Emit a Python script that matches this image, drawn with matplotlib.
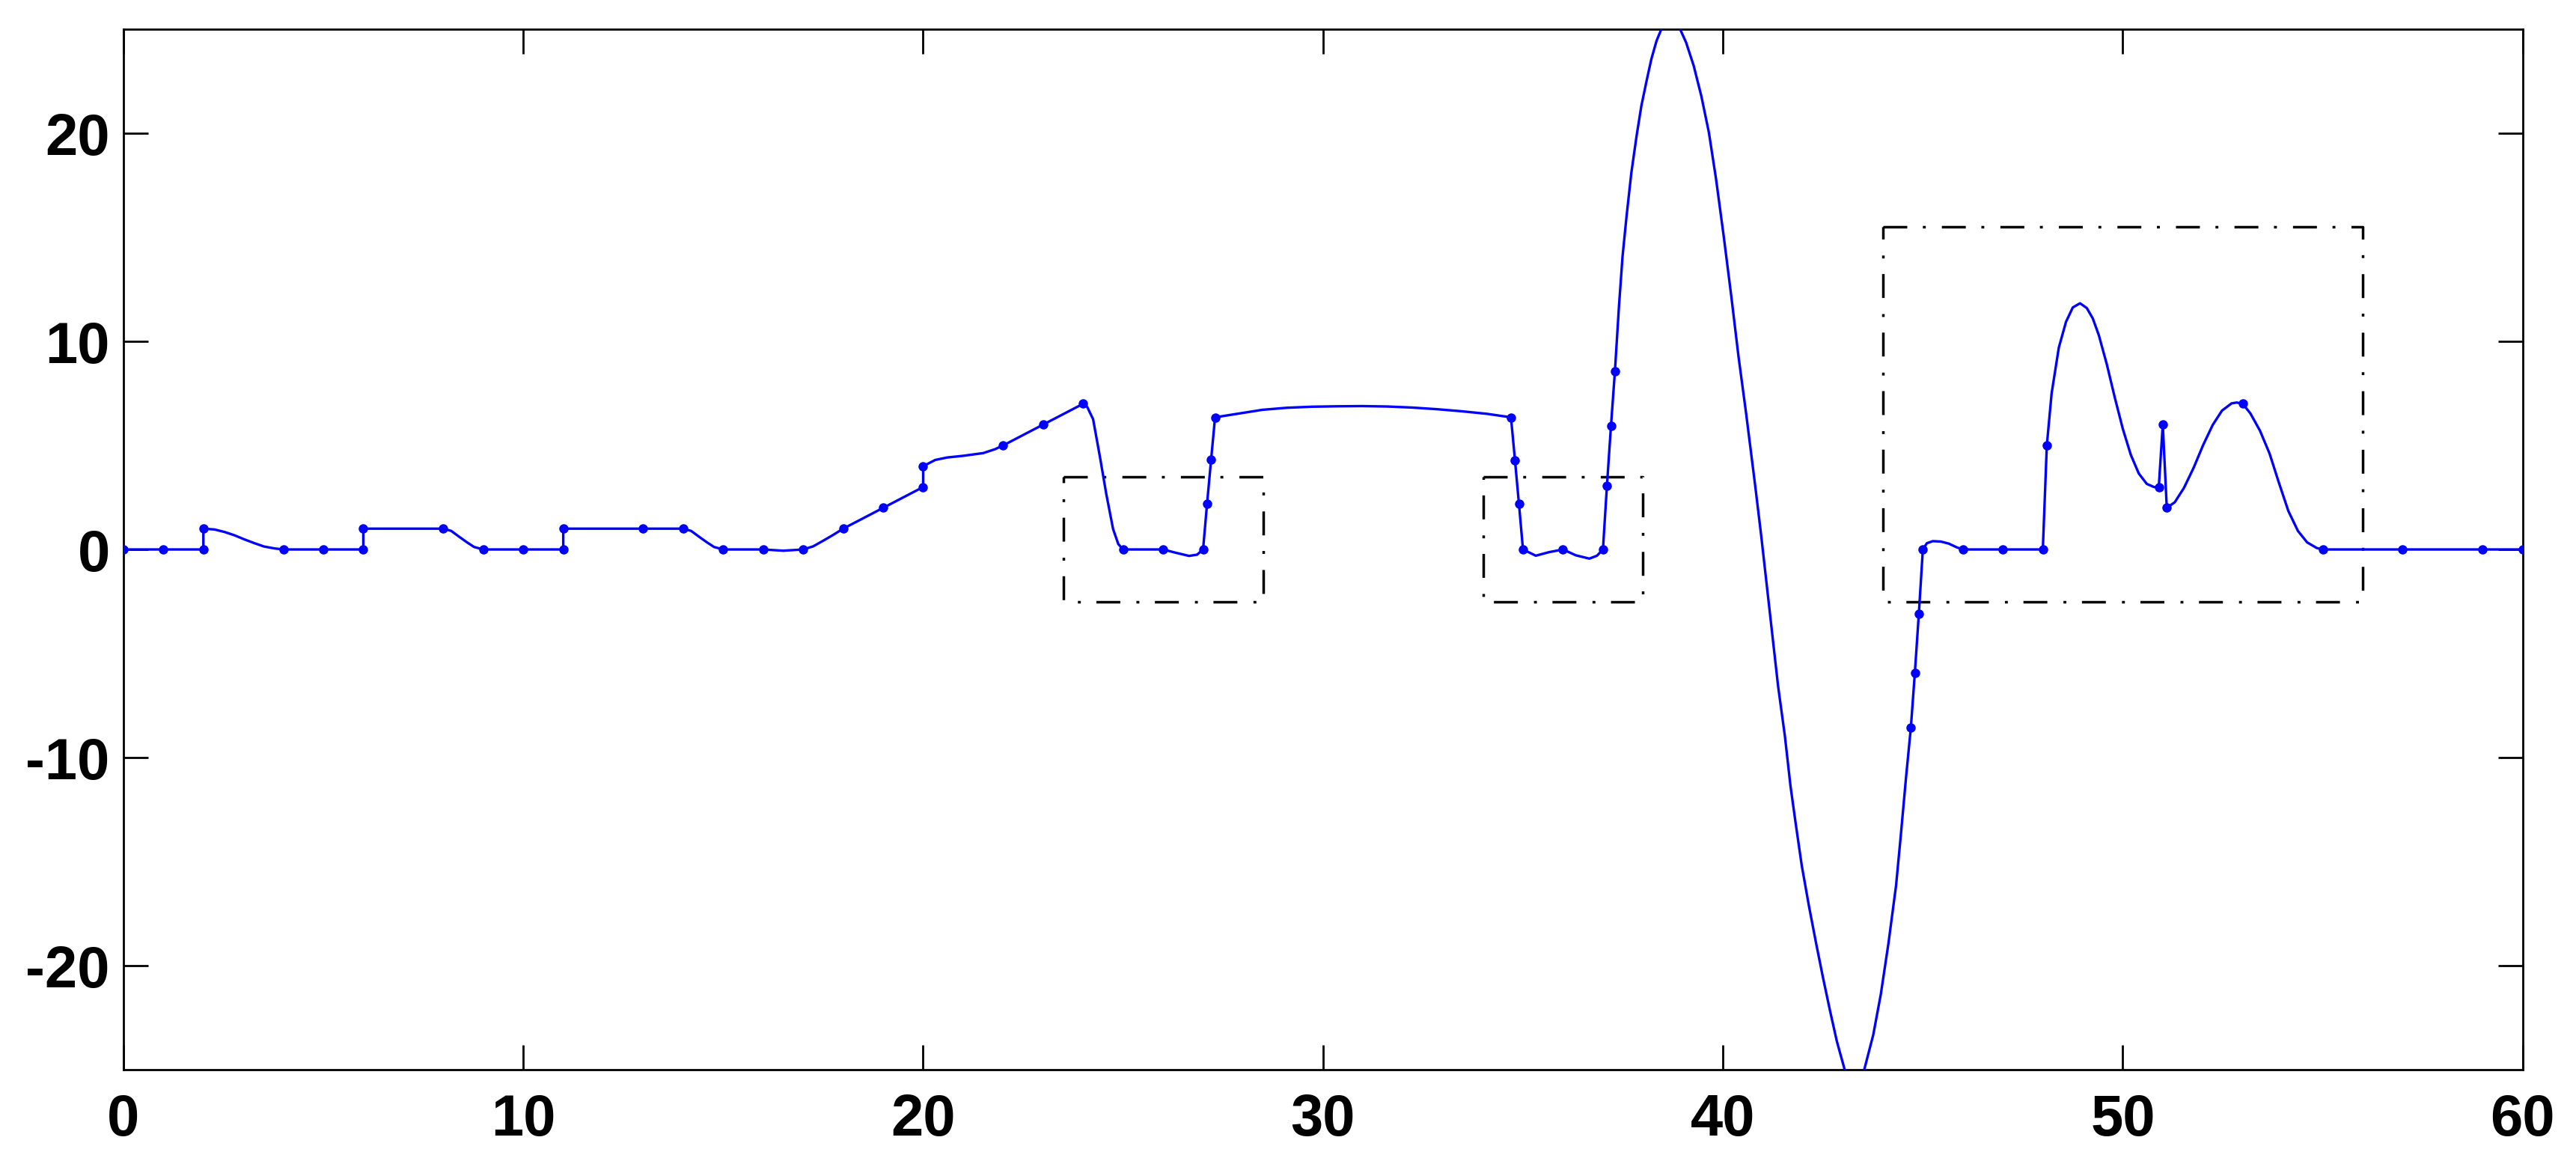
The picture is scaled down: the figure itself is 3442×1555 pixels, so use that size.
import numpy as np
import matplotlib
matplotlib.use("Agg")
import matplotlib.pyplot as plt

# curva (x, y), los saltos verticales repiten x
curva_x = [0, 1, 2, 2, 2.28, 2.53, 2.78, 3.03, 3.28, 3.52, 3.78, 4, 5, 6, 6, 8,
           8.2, 8.39, 8.58, 8.77, 9, 10, 11, 11, 13, 14, 14.2, 14.39, 14.58, 14.77,
           15, 16, 16.5, 17, 17.25, 17.5, 17.75, 18, 19, 20, 20, 20.3, 20.6, 21,
           21.5, 21.8, 22, 23, 24, 24.1, 24.25, 24.42, 24.58, 24.75, 24.88, 25, 26,
           26.3, 26.65, 26.85, 27, 27.1, 27.2, 27.3, 27.86, 28.48, 29.1, 29.73,
           30.35, 30.97, 31.6, 32.22, 32.85, 33.47, 34.09, 34.7, 34.8, 34.9, 35,
           35.32, 35.65, 36, 36.32, 36.66, 36.85, 37, 37.1, 37.2, 37.3, 37.4, 37.49,
           37.59, 37.71, 37.84, 37.96, 38.09, 38.21, 38.34, 38.46, 38.58, 38.7, 38.82,
           38.93, 39.08, 39.27, 39.46, 39.65, 39.83, 40.02, 40.21, 40.39, 40.58, 40.81,
           40.96, 41.1, 41.24, 41.38, 41.55, 41.69, 41.82, 41.97, 42.15, 42.33, 42.5,
           42.68, 42.85, 43.05, 43.17, 43.29, 43.41, 43.53, 43.76, 43.95, 44.14, 44.33,
           44.45, 44.58, 44.7, 44.8, 44.9, 45, 45.1, 45.25, 45.45, 45.65, 45.85, 46,
           47, 48, 48.1, 48.22, 48.4, 48.58, 48.75, 48.93, 49.1, 49.25, 49.4, 49.6,
           49.8, 50.0, 50.2, 50.4, 50.6, 50.78, 50.9, 51, 51.1, 51.3, 51.53, 51.77,
           52.01, 52.25, 52.48, 52.72, 52.85, 53, 53.19, 53.43, 53.67, 53.9, 54.14,
           54.38, 54.61, 54.85, 55, 57, 59, 60]
curva_y = [0, 0, 0, 1, 0.96, 0.84, 0.68, 0.48, 0.30, 0.14, 0.05, 0, 0, 0, 1, 1,
           0.89, 0.62, 0.36, 0.12, 0, 0, 0, 1, 1, 1, 0.89, 0.62, 0.36, 0.12,
           0, 0, -0.06, 0, 0.15, 0.42, 0.7, 1, 2, 3, 4, 4.3, 4.42, 4.5,
           4.63, 4.82, 5, 6, 7, 6.86, 6.26, 4.46, 2.66, 0.98, 0.26, 0, 0,
           -0.15, -0.31, -0.25, 0, 2.2, 4.3, 6.35, 6.52, 6.71, 6.81, 6.86,
           6.88, 6.89, 6.87, 6.82, 6.74, 6.64, 6.52, 6.35, 4.29, 2.18, 0,
           -0.3, -0.13, 0, -0.28, -0.44, -0.3, 0, 3.07, 5.92, 8.58, 11.67, 14.08,
           16.01, 18.1, 19.86, 21.31, 22.51, 23.56, 24.44, 25.0, 25.34, 25.45, 25.34,
           25.0, 24.36, 23.24, 21.79, 20.03, 17.78, 15.05, 12.16, 9.27, 6.54, 3.02,
           0.62, -1.77, -4.17, -6.57, -8.97, -11.37, -13.17, -15.17, -17.12, -18.92, -20.55,
           -22.18, -23.64, -25.03, -25.34, -25.45, -25.34, -25.03, -23.32, -21.36, -18.92, -16.15,
           -13.71, -10.94, -8.56, -5.93, -3.08, 0, 0.3, 0.4, 0.38, 0.28, 0.1, 0,
           0, 0, 5.0, 7.5, 9.7, 10.94, 11.63, 11.83, 11.6, 11.1, 10.3, 8.9,
           7.3, 5.8, 4.55, 3.65, 3.15, 3.0, 3.0, 6.0, 2.0, 2.27, 2.96, 3.92,
           5.02, 5.99, 6.67, 7.02, 7.06, 7.0, 6.54, 5.71, 4.61, 3.23, 1.85,
           0.89, 0.34, 0.07, 0, 0, 0, 0]

# puntos marcados
puntos_x = [0, 1, 2, 2, 4, 5, 6, 6, 8, 9, 10, 11, 11, 13, 14, 15, 16, 17, 18, 19,
            20, 20, 22, 23, 24, 25, 26, 27, 27.1, 27.2, 27.3, 34.7, 34.8, 34.9, 35,
            36, 37, 37.1, 37.2, 37.3, 44.7, 44.8, 44.9, 45, 46, 47, 48, 48.1, 50.9,
            51, 51.1, 53, 55, 57, 59, 60]
puntos_y = [0, 0, 0, 1, 0, 0, 0, 1, 1, 0, 0, 0, 1, 1, 1, 0, 0, 0, 1, 2,
            3, 4, 5, 6, 7, 0, 0, 0, 2.2, 4.3, 6.35, 6.35, 4.29, 2.18, 0,
            0, 0, 3.07, 5.92, 8.58, -8.56, -5.93, -3.08, 0, 0, 0, 0, 5.0, 3.0,
            6.0, 2.0, 7.0, 0, 0, 0, 0]

# cajas punteadas
caja_x0 = [23.5, 34, 44]
caja_x1 = [28.5, 38, 56]
caja_y0 = [-2.5, -2.5, -2.5]
caja_y1 = [3.5, 3.5, 15.5]

xticks = [0, 10, 20, 30, 40, 50, 60]
yticks = [-20, -10, 0, 10, 20]

plt.rcParams['axes.unicode_minus'] = False
plt.rcParams['lines.scale_dashes'] = False

fig = plt.figure(figsize=(34.42, 15.55), dpi=100)
ax = fig.add_axes([0.0479, 0.0810, 0.9314, 0.8939])

ax.plot(curva_x, curva_y, color='#0000ff', linewidth=2.4, zorder=3)
ax.plot(puntos_x, puntos_y, 'o', color='#0000ff', markersize=9,
        markeredgewidth=0, zorder=4)

for i in range(len(caja_x0)):
    bx = [caja_x0[i], caja_x1[i], caja_x1[i], caja_x0[i], caja_x0[i]]
    by = [caja_y1[i], caja_y1[i], caja_y0[i], caja_y0[i], caja_y1[i]]
    ax.plot(bx, by, color='black', linewidth=2.5,
            linestyle=(0, (23, 15, 2.8, 15.5)), zorder=2)

ax.set_xlim(0, 60)
ax.set_ylim(-25, 25)
ax.set_xticks(xticks)
ax.set_yticks(yticks)
ax.tick_params(direction='in', length=23.5, width=2, top=True, right=True,
               labelsize=56)
ax.tick_params(axis='x', pad=22)
ax.tick_params(axis='y', pad=13)
for lab in ax.get_xticklabels() + ax.get_yticklabels():
    lab.set_fontfamily('Liberation Sans')
    lab.set_fontweight('bold')
for s in ax.spines.values():
    s.set_linewidth(2)

fig.savefig('out.png', dpi=100, facecolor='white')
